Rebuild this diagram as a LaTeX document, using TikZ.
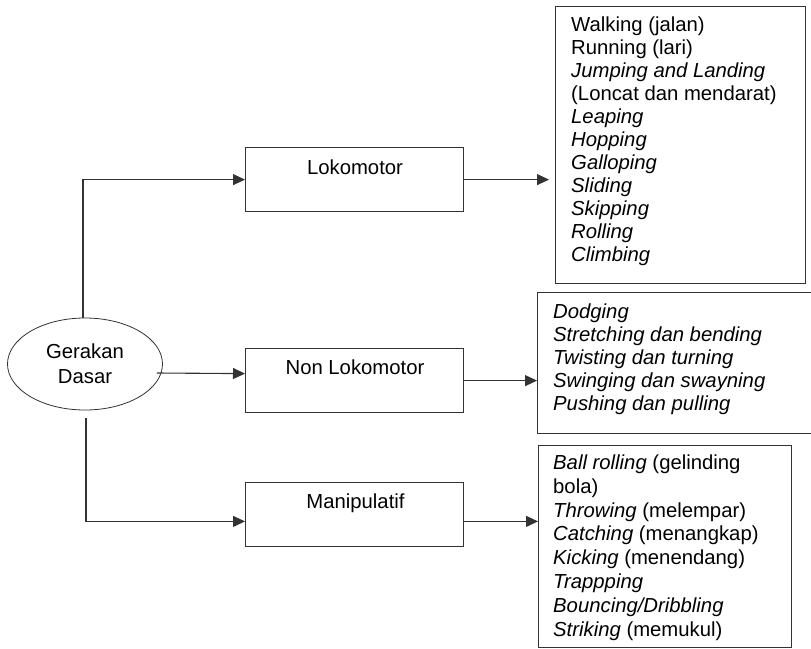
\documentclass[tikz,border=0pt]{standalone}
\usepackage{fontspec}
\setmainfont{Liberation Sans}
\usetikzlibrary{shapes.geometric,arrows.meta,calc}
\begin{document}
\begin{tikzpicture}[x=1pt,y=-1pt,
  line/.style={draw=black!80,line width=1.1pt},
  arr/.style={line,-{Triangle[length=12pt,width=11pt]}},
  midbox/.style={draw=black!80,line width=1.1pt,minimum width=218pt,minimum height=63.5pt,anchor=north west,inner sep=0pt},
  listbox/.style={draw=black!80,line width=1.1pt,anchor=north west,inner sep=0pt},
  txt/.style={font=\fontsize{20.3}{23}\selectfont,inner sep=0pt},
  item/.style={txt,anchor=base west}]
\useasboundingbox (0,0) rectangle (811,648);
\fill[white] (0,0) rectangle (811,648);

% central ellipse
\node[ellipse,draw=black!80,line width=0.8pt,minimum width=155pt,minimum height=92pt,inner sep=0pt,align=center,font=\fontsize{20.3}{25}\selectfont] (ge) at (85,364) {Gerakan\\Dasar};

% middle boxes
\node[midbox] (lok) at (245,147.3) {};
\node[txt,anchor=base] (loklbl) at (355,174.3) {Lokomotor};
\node[midbox] (nonlok) at (245,348.3) {};
\node[txt,anchor=base] (nonloklbl) at (355,374.3) {Non Lokomotor};
\node[midbox,minimum height=64.3pt] (manip) at (245,481.7) {};
\node[txt,anchor=base] (maniplbl) at (355.5,508) {Manipulatif};

% list boxes
\node[listbox,minimum width=250pt,minimum height=277pt] (l1) at (555,6) {};
\node[listbox,minimum width=276pt,minimum height=141.3pt] (l2) at (537,291.7) {};
\node[listbox,minimum width=253pt,minimum height=202pt] (l3) at (538,445) {};

% list 1
\node[item] (a1) at (571,31.7) {Walking (jalan)};
\node[item] (a2) at (571,54.7) {Running (lari)};
\node[item] (a3) at (571,77.7) {\itshape Jumping and Landing};
\node[item] (a4) at (571,100.7) {(Loncat dan mendarat)};
\node[item] (a5) at (571,123.7) {\itshape Leaping};
\node[item] (a6) at (571,146.7) {\itshape Hopping};
\node[item] (a7) at (571,169.7) {\itshape Galloping};
\node[item] (a8) at (571,192.7) {\itshape Sliding};
\node[item] (a9) at (571,215.7) {\itshape Skipping};
\node[item] (a10) at (571,238.7) {\itshape Rolling};
\node[item] (a11) at (571,261.7) {\itshape Climbing};

% list 2
\node[item] (b1) at (553,318) {\itshape Dodging};
\node[item] (b2) at (553,341) {\itshape Stretching dan bending};
\node[item] (b3) at (553,364) {\itshape Twisting dan turning};
\node[item] (b4) at (553,387) {\itshape Swinging dan swayning};
\node[item] (b5) at (553,410) {\itshape Pushing dan pulling};

% list 3
\node[item] (c1) at (553,469.5) {\textit{Ball rolling} (gelinding};
\node[item] (c2) at (553,493.3) {bola)};
\node[item] (c3) at (553,517.1) {\textit{Throwing} (melempar)};
\node[item] (c4) at (553,540.9) {\textit{Catching} (menangkap)};
\node[item] (c5) at (553,564.7) {\textit{Kicking} (menendang)};
\node[item] (c6) at (553,588.5) {\itshape Trappping};
\node[item] (c7) at (553,612.3) {\itshape Bouncing/Dribbling};
\node[item] (c8) at (553,636.1) {\textit{Striking} (memukul)};

% connectors
\draw[arr] ([xshift=-2pt]ge.north) |- (lok.west);
\draw[arr] ([xshift=-6pt,yshift=-9pt]ge.east) -- ([yshift=7pt]nonlok.west);
\draw[arr] ([xshift=1pt,yshift=-8pt]ge.south) |- ([yshift=-7pt]manip.west);

\draw[arr,shorten >=6pt] (lok.east) -- (lok.east -| l1.west);
\draw[arr] (nonlok.east) -- (nonlok.east -| l2.west);
\draw[arr] ([yshift=-7pt]manip.east) -- ([yshift=-7pt]manip.east -| l3.west);
\end{tikzpicture}
\end{document}
